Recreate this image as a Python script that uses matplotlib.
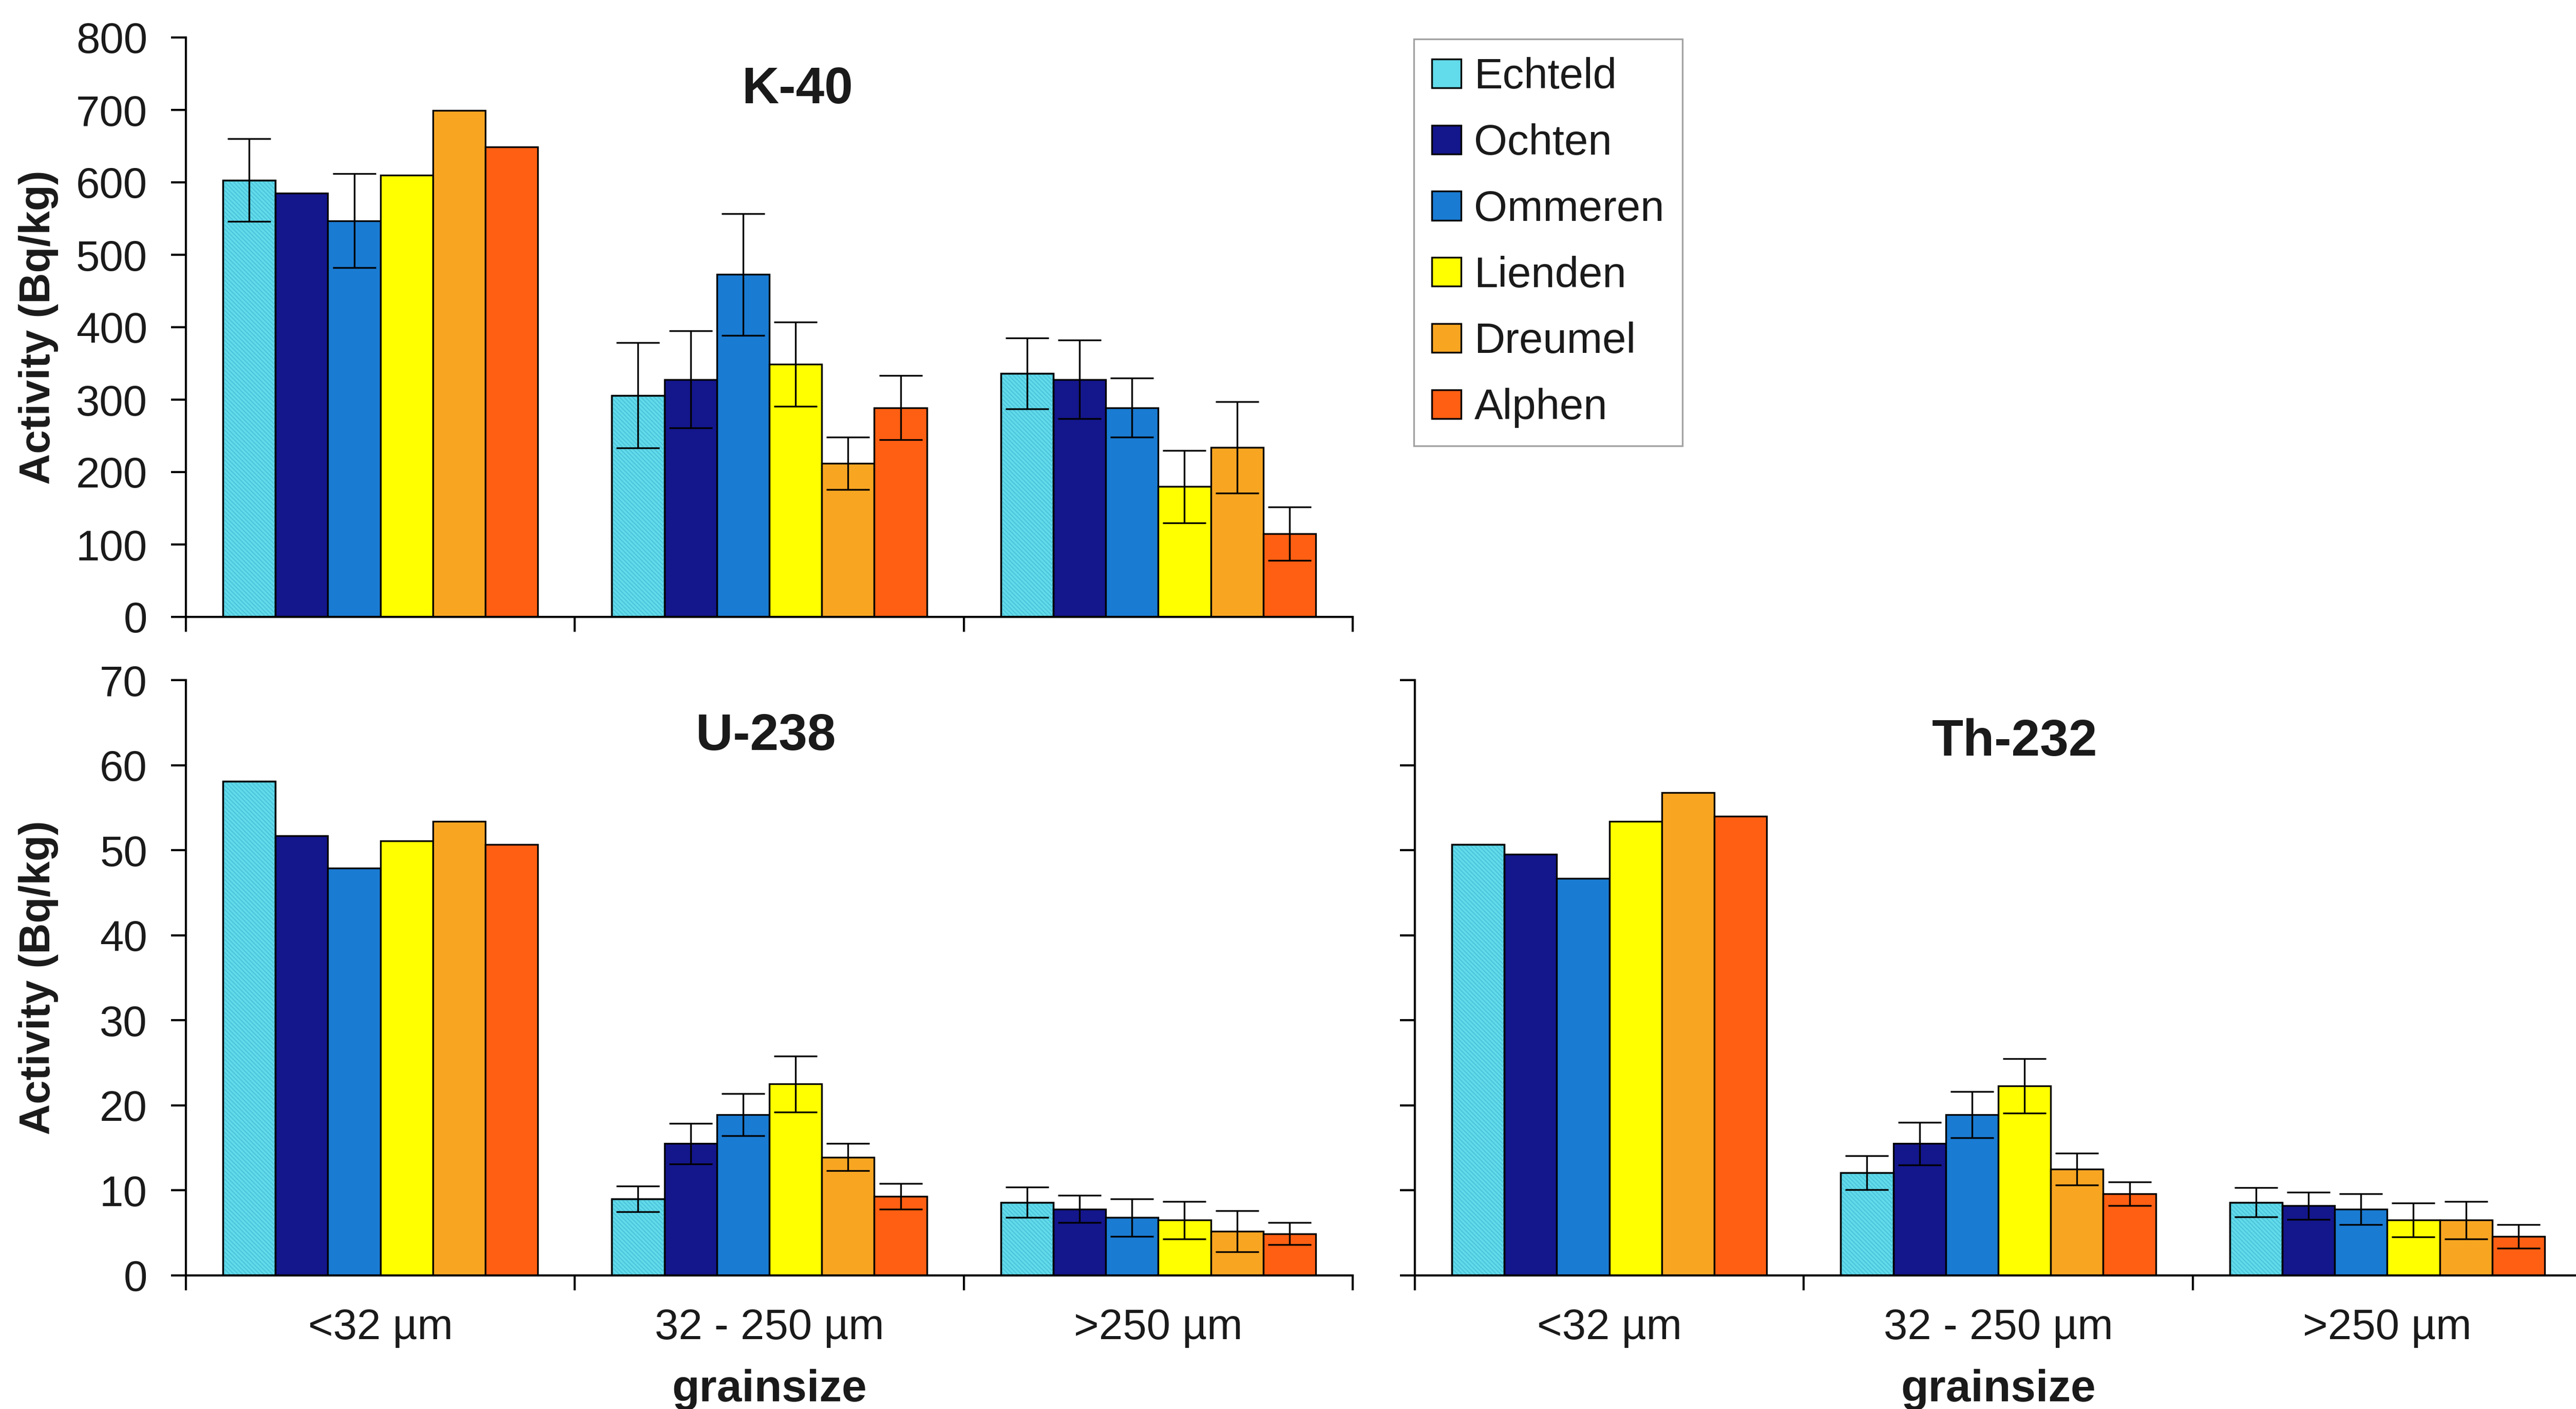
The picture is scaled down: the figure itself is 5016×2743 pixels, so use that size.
import numpy as np
import matplotlib
matplotlib.use("Agg")
import matplotlib.pyplot as plt
from matplotlib.patches import Patch

plt.rcParams['font.family'] = ['Liberation Sans', 'DejaVu Sans']
plt.rcParams['hatch.linewidth'] = 0.5

# Data
categories = ['<32 µm', '32 - 250 µm', '>250 µm']
sites = ['Echteld', 'Ochten', 'Ommeren', 'Lienden', 'Dreumel', 'Alphen']
colors = ['#62dbea', '#14168c', '#1a7bd2', '#ffff00', '#f8a622', '#ff5f12']

# rows = sites, columns = grainsize classes
k40_vals = [[603, 306, 336],
            [585, 328, 328],
            [547, 473, 289],
            [610, 349, 180],
            [699, 212, 234],
            [649, 289, 115]]
k40_err = [[57, 73, 49],
           [0, 67, 54],
           [65, 84, 41],
           [0, 58, 50],
           [0, 36, 63],
           [0, 44, 37]]

u238_vals = [[58.1, 9.0, 8.6],
             [51.7, 15.5, 7.8],
             [47.9, 18.9, 6.8],
             [51.1, 22.5, 6.5],
             [53.4, 13.9, 5.2],
             [50.7, 9.3, 4.9]]
u238_err = [[0, 1.5, 1.8],
            [0, 2.4, 1.6],
            [0, 2.5, 2.2],
            [0, 3.3, 2.2],
            [0, 1.6, 2.4],
            [0, 1.5, 1.3]]

th232_vals = [[50.7, 12.1, 8.6],
              [49.5, 15.5, 8.2],
              [46.7, 18.9, 7.8],
              [53.4, 22.3, 6.5],
              [56.8, 12.5, 6.5],
              [54.0, 9.6, 4.6]]
th232_err = [[0, 2.0, 1.7],
             [0, 2.5, 1.6],
             [0, 2.7, 1.8],
             [0, 3.2, 2.0],
             [0, 1.9, 2.2],
             [0, 1.4, 1.4]]

TXT = '#1a1a1a'
W, H = 5016, 2743
bar_w = 0.135

fig = plt.figure(figsize=(W / 300, H / 300), dpi=300)

def px_axes(x0, y_top, w, y_bot):
    return fig.add_axes([x0 / W, 1 - y_bot / H, w / W, (y_bot - y_top) / H])

ax_k = px_axes(362, 73, 2272, 1201)
ax_u = px_axes(362, 1324, 2272, 2483)
ax_t = px_axes(2755, 1324, 2272, 2483)


def draw_panel(ax, vals, errs, ymax, ystep, title, tx, ty, ylabels=True, xlabels=True):
    x = np.arange(len(categories))
    for i, site in enumerate(sites):
        pos = x + (i - 2.5) * bar_w
        v = np.array(vals[i], dtype=float)
        ax.bar(pos, v, bar_w, color=colors[i], edgecolor='black', linewidth=0.8, zorder=2)
        if site == 'Echteld':
            # fine diagonal texture on the Echteld bars
            ax.bar(pos, v, bar_w, facecolor='none', edgecolor='#4cc3db',
                   hatch='\\' * 12, linewidth=0, zorder=2.2)
            ax.bar(pos, v, bar_w, facecolor='none', edgecolor='black', linewidth=0.8, zorder=2.4)
        e = np.array(errs[i], dtype=float)
        m = e > 0
        if m.any():
            ax.errorbar(pos[m], v[m], yerr=e[m], fmt='none', ecolor='black',
                        elinewidth=0.8, capsize=10, capthick=0.8, zorder=3)

    ax.set_xlim(-0.5, 2.5)
    ax.set_ylim(0, ymax)
    ax.set_yticks(np.arange(0, ymax + ystep / 2, ystep))
    ax.set_xticks([-0.5, 0.5, 1.5, 2.5])
    ax.set_xticklabels([])
    ax.set_xticks(x, minor=True)
    if xlabels:
        ax.set_xticklabels(categories, minor=True)
    ax.tick_params(axis='x', which='major', direction='out', length=7, width=1, color='black')
    ax.tick_params(axis='x', which='minor', length=0, pad=15, labelsize=20, labelcolor=TXT)
    ax.tick_params(axis='y', direction='out', length=7, width=1, color='black',
                   pad=11, labelsize=20, labelcolor=TXT, labelleft=ylabels)
    for s in ['top', 'right']:
        ax.spines[s].set_visible(False)
    for s in ['left', 'bottom']:
        ax.spines[s].set_linewidth(1.0)
        ax.spines[s].set_color('black')
    ax.text(tx, ty, title, transform=ax.transAxes, ha='center', va='center',
            fontsize=24, fontweight='bold', color=TXT)
    if xlabels:
        ax.set_xlabel('grainsize', fontsize=21, fontweight='bold', color=TXT, labelpad=10)


draw_panel(ax_k, k40_vals, k40_err, 800, 100, 'K-40', 0.524, 0.91, xlabels=False)
draw_panel(ax_u, u238_vals, u238_err, 70, 10, 'U-238', 0.497, 0.905)
draw_panel(ax_t, th232_vals, th232_err, 70, 10, 'Th-232', 0.514, 0.896, ylabels=False)

for ax in (ax_k, ax_u):
    bb = ax.get_position()
    fig.text(75 / W, (bb.y0 + bb.y1) / 2, 'Activity (Bq/kg)', rotation=90,
             ha='center', va='center', fontsize=20, fontweight='bold', color=TXT)

handles = [Patch(facecolor=c, edgecolor='black', linewidth=0.8) for c in colors]
leg = fig.legend(handles, sites, loc='upper left', bbox_to_anchor=(2753 / W, 1 - 76 / H),
                 borderaxespad=0, fontsize=20, handlelength=0.68, handleheight=0.66,
                 handletextpad=0.31, labelspacing=0.61, borderpad=0.42,
                 fancybox=False, frameon=True)
leg.get_frame().set_edgecolor('#8c8c8c')
leg.get_frame().set_linewidth(0.8)
for t in leg.get_texts():
    t.set_color(TXT)

fig.savefig('out.png', dpi=300, facecolor='white')
